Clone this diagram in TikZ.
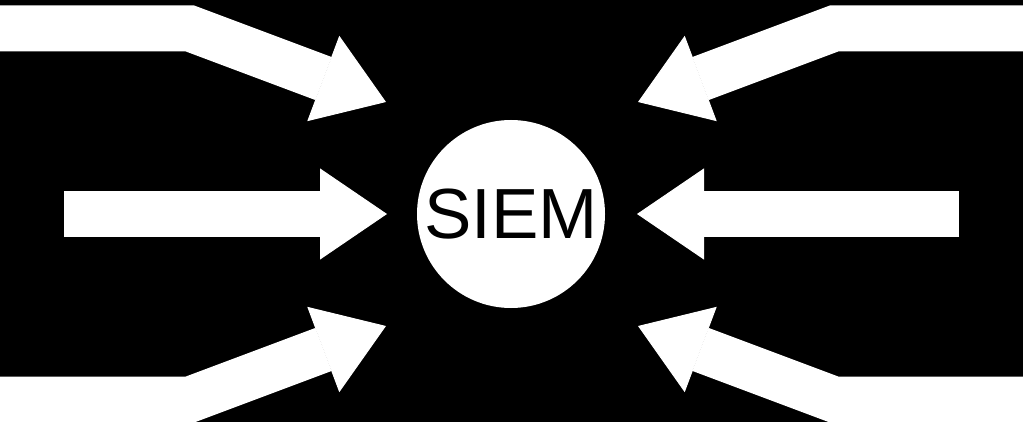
\documentclass[tikz,border=0pt]{standalone}
\usepackage{fontspec}
\setmainfont{Liberation Sans}
\usetikzlibrary{arrows.meta}

\begin{document}
\begin{tikzpicture}[x=1pt,y=-1pt,
    feed/.style={white, line width=46pt, line join=miter,
      -{Triangle[length=67pt,width=91pt,line width=1pt]}}]
  \useasboundingbox (0,0) rectangle (1023,422);
  \fill[black] (0,0) rectangle (1023,422);
  \node[circle, fill=white, minimum size=188pt, inner sep=0pt,
    font=\fontsize{71}{71}\selectfont] (siem) at (511,214) {SIEM};
  % sources on the left
  \coordinate (srcNW) at (-2,28.5);
  \coordinate (bendNW) at (190,28.5);
  \coordinate (tipNW) at (386,102);
  \coordinate (srcW) at (64,214);
  \coordinate (tipW) at (387,214);
  \coordinate (srcSW) at (-2,399.5);
  \coordinate (bendSW) at (190,399.5);
  \coordinate (tipSW) at (386,326);
  % sources on the right
  \coordinate (srcNE) at (1025,28.5);
  \coordinate (bendNE) at (834,28.5);
  \coordinate (tipNE) at (638,102);
  \coordinate (srcE) at (959,214);
  \coordinate (tipE) at (637,214);
  \coordinate (srcSE) at (1025,399.5);
  \coordinate (bendSE) at (834,399.5);
  \coordinate (tipSE) at (638,326);
  \clip (0,0) rectangle (1023,422);
  \foreach \p in {NW,SW,NE,SE}
    \draw[feed] (src\p) -- (bend\p) -- (tip\p);
  \foreach \p in {W,E}
    \draw[feed] (src\p) -- (tip\p);
\end{tikzpicture}
\end{document}
